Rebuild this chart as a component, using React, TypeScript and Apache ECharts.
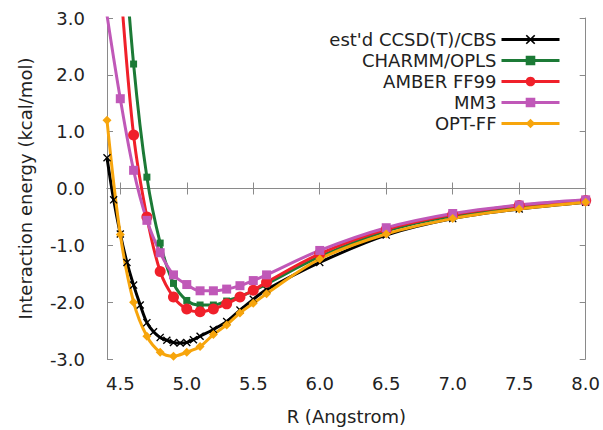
import React, { useEffect, useRef } from "react";
import * as echarts from "echarts";

// ---- data ----
const ccsdR = [4.4, 4.45, 4.5, 4.55, 4.6, 4.65, 4.7, 4.75, 4.8, 4.85, 4.9, 4.95, 5.0, 5.05, 5.1, 5.2, 5.3, 5.4, 5.5, 5.6, 6.0, 6.5, 7.0, 7.5, 8.0];
const ccsdE = [0.54, -0.2, -0.8, -1.3, -1.7, -2.05, -2.36, -2.52, -2.62, -2.67, -2.71, -2.72, -2.71, -2.66, -2.6, -2.48, -2.34, -2.14, -1.95, -1.78, -1.3, -0.82, -0.53, -0.36, -0.24];

const ffR = [4.4, 4.5, 4.6, 4.7, 4.8, 4.9, 5.0, 5.1, 5.2, 5.3, 5.4, 5.5, 5.6, 6.0, 6.5, 7.0, 7.5, 8.0];
const charmmE = [9.0, 5.2, 2.19, 0.2, -0.96, -1.67, -1.97, -2.05, -2.05, -1.98, -1.9, -1.8, -1.68, -1.2, -0.75, -0.48, -0.32, -0.22];
const amberE = [6.5, 3.6, 0.94, -0.5, -1.46, -1.91, -2.12, -2.17, -2.12, -2.03, -1.91, -1.79, -1.65, -1.15, -0.72, -0.46, -0.3, -0.21];
const mm3E = [3.05, 1.58, 0.32, -0.56, -1.13, -1.52, -1.69, -1.8, -1.8, -1.77, -1.71, -1.62, -1.52, -1.09, -0.69, -0.44, -0.29, -0.2];
const optE = [1.2, -0.81, -2.0, -2.6, -2.88, -2.95, -2.88, -2.78, -2.57, -2.4, -2.19, -2.02, -1.85, -1.24, -0.8, -0.53, -0.36, -0.24];

const seriesNames = ["est'd CCSD(T)/CBS", "CHARMM/OPLS", "AMBER FF99", "MM3", "OPT-FF"];
const xTitle = "R (Angstrom)";
const yTitle = "Interaction energy (kcal/mol)";

const FONT = "DejaVu Sans";
const crossPath = "path://M0,1.2 L1.2,0 L5,3.8 L8.8,0 L10,1.2 L6.2,5 L10,8.8 L8.8,10 L5,6.2 L1.2,10 L0,8.8 L3.8,5 Z";

function pairs(xs: number[], ys: number[]) {
  return xs.map((x, i) => [x, ys[i]]);
}

export default function App() {
  const ref = useRef<HTMLDivElement>(null);
  useEffect(() => {
    if (!ref.current) return;
    const chart = echarts.init(ref.current, undefined, { renderer: "svg" });
    const axisColor = "#8a8a8a";
    const mk = (name: string, data: number[][], color: string, symbol: string, size: number) => ({
      type: "line",
      name,
      data,
      smooth: 0.35,
      clip: true,
      symbol,
      symbolSize: size,
      showAllSymbol: true,
      lineStyle: { color, width: 3 },
      itemStyle: { color },
      emphasis: { disabled: true },
    });
    chart.setOption({
      animation: false,
      grid: { left: 107, right: 15, top: 18, bottom: 65 },
      legend: {
        orient: "vertical",
        align: "right",
        right: 37,
        top: 25,
        itemWidth: 58,
        itemHeight: 12,
        itemGap: 2,
        lineStyle: { width: 3 },
        textStyle: { fontFamily: FONT, fontSize: 18, color: "#222", lineHeight: 19 },
        data: seriesNames,
      },
      xAxis: [
        {
          type: "value",
          min: 4.4,
          max: 8.0,
          splitNumber: 7,
          name: xTitle,
          nameLocation: "middle",
          nameGap: 48,
          nameTextStyle: { fontFamily: FONT, fontSize: 18, color: "#222" },
          axisLine: { lineStyle: { color: axisColor, width: 1 } },
          axisTick: { inside: true, length: 6, lineStyle: { color: axisColor } },
          axisLabel: {
            showMinLabel: false,
            margin: 15,
            fontFamily: FONT,
            fontSize: 18,
            color: "#222",
            formatter: (v: number) => (Math.abs(v - 4.4) < 1e-6 ? "" : v.toFixed(1)),
          },
          splitLine: { show: false },
        },
        {
          type: "value",
          position: "top",
          min: 4.4,
          max: 8.0,
          splitNumber: 7,
          axisLine: { lineStyle: { color: axisColor, width: 1 } },
          axisTick: { inside: true, length: 6, lineStyle: { color: axisColor } },
          axisLabel: { show: false },
          splitLine: { show: false },
        },
      ],
      yAxis: [
        {
          type: "value",
          min: -3,
          max: 3,
          interval: 1,
          name: yTitle,
          nameLocation: "middle",
          nameGap: 73,
          nameTextStyle: { fontFamily: FONT, fontSize: 18, color: "#222" },
          axisLine: { show: true, lineStyle: { color: axisColor, width: 1 } },
          axisTick: { show: true, inside: true, length: 6, lineStyle: { color: axisColor } },
          axisLabel: {
            margin: 22,
            fontFamily: FONT,
            fontSize: 18,
            color: "#222",
            formatter: (v: number) => v.toFixed(1),
          },
          splitLine: { show: false },
        },
        {
          type: "value",
          position: "right",
          min: -3,
          max: 3,
          interval: 1,
          axisLine: { show: true, lineStyle: { color: axisColor, width: 1 } },
          axisTick: { show: true, inside: true, length: 6, lineStyle: { color: axisColor } },
          axisLabel: { show: false },
          splitLine: { show: false },
        },
      ],
      series: [
        mk(seriesNames[0], pairs(ccsdR, ccsdE), "#000000", crossPath, 8),
        mk(seriesNames[1], pairs(ffR, charmmE), "#1c7a36", "rect", 7),
        mk(seriesNames[2], pairs(ffR, amberE), "#f0202a", "circle", 11),
        mk(seriesNames[3], pairs(ffR, mm3E), "#c058b8", "rect", 9),
        mk(seriesNames[4], pairs(ffR, optE), "#f7a50c", "diamond", 9),
      ],
    });
    return () => chart.dispose();
  }, []);
  return <div ref={ref} style={{ width: 603, height: 430, position: "absolute", left: 0, top: 0 }} />;
}
